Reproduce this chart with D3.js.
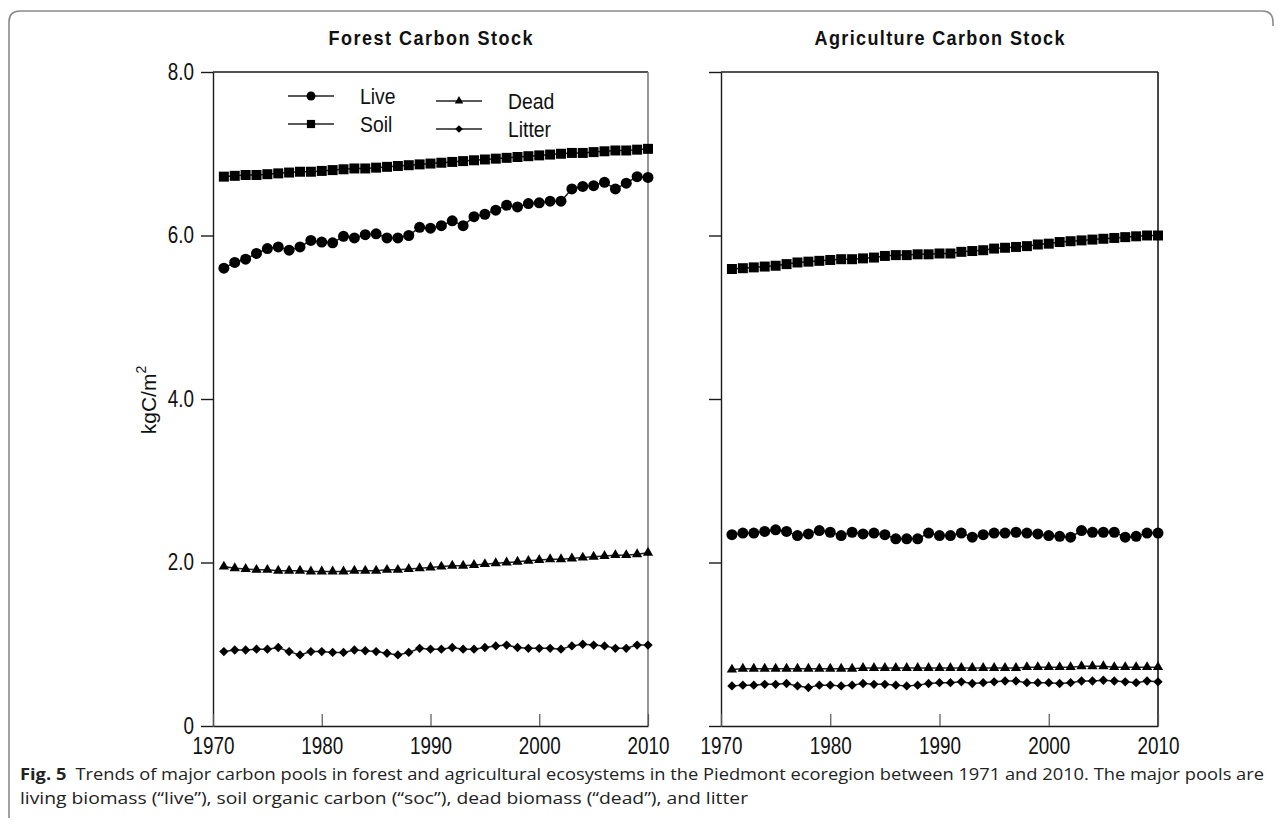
<!DOCTYPE html>
<html><head><meta charset="utf-8">
<script src="https://cdn.jsdelivr.net/npm/d3@7"></script>
<style>body{margin:0;background:#fff;}svg{display:block;}</style>
</head><body>
<svg id="chart" width="1282" height="824"></svg>
<script>
// ---------- data ----------
const years = [1971,1972,1973,1974,1975,1976,1977,1978,1979,1980,
               1981,1982,1983,1984,1985,1986,1987,1988,1989,1990,
               1991,1992,1993,1994,1995,1996,1997,1998,1999,2000,
               2001,2002,2003,2004,2005,2006,2007,2008,2009,2010];
const seriesNames = ["Live","Soil","Dead","Litter"];
const xTicks = [1970,1980,1990,2000,2010];
const yTicks = [0,2,4,6,8];
const yTickLabels = ["0","2.0","4.0","6.0","8.0"];
const panelTitles = ["Forest Carbon Stock","Agriculture Carbon Stock"];

const forestLive = [5.60,5.67,5.71,5.78,5.84,5.86,5.82,5.86,5.94,5.92,
                    5.91,5.99,5.97,6.01,6.02,5.97,5.97,6.00,6.10,6.09,
                    6.12,6.18,6.12,6.23,6.26,6.31,6.37,6.35,6.39,6.40,
                    6.42,6.42,6.57,6.60,6.61,6.65,6.57,6.64,6.72,6.71];
const forestSoil = [6.72,6.73,6.74,6.74,6.75,6.76,6.77,6.78,6.78,6.79,
                    6.80,6.81,6.82,6.82,6.83,6.84,6.85,6.86,6.87,6.88,
                    6.89,6.90,6.91,6.92,6.93,6.94,6.95,6.96,6.97,6.98,
                    6.99,7.00,7.01,7.01,7.02,7.03,7.04,7.04,7.05,7.06];
const forestDead = [1.95,1.93,1.92,1.91,1.91,1.90,1.90,1.90,1.89,1.89,
                    1.89,1.89,1.90,1.90,1.90,1.91,1.91,1.92,1.93,1.94,
                    1.95,1.96,1.96,1.97,1.98,1.99,2.00,2.01,2.02,2.03,
                    2.04,2.04,2.05,2.06,2.07,2.08,2.09,2.09,2.10,2.12];
const forestLitter = [0.91,0.93,0.93,0.94,0.94,0.96,0.91,0.87,0.91,0.91,
                      0.90,0.90,0.93,0.92,0.91,0.89,0.87,0.90,0.95,0.94,
                      0.94,0.96,0.94,0.94,0.96,0.98,0.99,0.96,0.95,0.95,
                      0.95,0.94,0.98,1.00,0.99,0.98,0.95,0.95,0.99,0.99];

const agriLive = [2.34,2.36,2.36,2.38,2.40,2.38,2.33,2.35,2.39,2.37,
                  2.33,2.37,2.35,2.36,2.34,2.29,2.29,2.29,2.36,2.33,
                  2.33,2.36,2.31,2.34,2.36,2.36,2.37,2.36,2.35,2.33,
                  2.32,2.31,2.39,2.37,2.37,2.37,2.31,2.32,2.36,2.36];
const agriSoil = [5.59,5.60,5.61,5.62,5.63,5.65,5.67,5.68,5.69,5.70,
                  5.71,5.71,5.72,5.73,5.75,5.76,5.76,5.77,5.77,5.78,
                  5.78,5.80,5.81,5.82,5.84,5.85,5.86,5.87,5.89,5.90,
                  5.92,5.93,5.94,5.95,5.96,5.97,5.98,5.99,6.00,6.00];
const agriDead = [0.69,0.70,0.70,0.70,0.70,0.70,0.70,0.70,0.70,0.70,
                  0.70,0.70,0.71,0.71,0.71,0.71,0.71,0.71,0.71,0.71,
                  0.71,0.71,0.71,0.71,0.71,0.71,0.71,0.72,0.72,0.72,
                  0.72,0.72,0.73,0.73,0.73,0.72,0.72,0.72,0.72,0.72];
const agriLitter = [0.49,0.50,0.50,0.51,0.51,0.52,0.49,0.47,0.50,0.50,
                    0.49,0.50,0.52,0.51,0.51,0.50,0.49,0.50,0.52,0.53,
                    0.53,0.54,0.52,0.53,0.54,0.55,0.55,0.53,0.53,0.53,
                    0.52,0.53,0.55,0.55,0.56,0.55,0.54,0.53,0.55,0.54];

const captionBold = "Fig. 5";
const captionLine1 = "Trends of major carbon pools in forest and agricultural ecosystems in the Piedmont ecoregion between 1971 and 2010. The major pools are";
const captionLine2 = "living biomass (\u201clive\u201d), soil organic carbon (\u201csoc\u201d), dead biomass (\u201cdead\u201d), and litter";

// ---------- drawing ----------
const SANS = "'Liberation Sans',Arial,sans-serif";
const CAPFONT = "'Open Sans','Noto Sans',sans-serif";
const NX = 0.82; // horizontal squeeze to imitate a narrow face
const svg = d3.select("#chart");
const INK = "#1a1a1a";

// figure frame
svg.append("path")
  .attr("d","M9,818 V22 Q9,11 20,11 H1262 Q1273,11 1273,22 V26")
  .attr("fill","none").attr("stroke","#8a8a8a").attr("stroke-width",1.6);

const y = d3.scaleLinear().domain([0,8]).range([726,72]);
const panels = [
  {x: d3.scaleLinear().domain([1970,2010]).range([213,648]), data:[forestLive,forestSoil,forestDead,forestLitter], labels:true, title:panelTitles[0], titleLen:204, rightCol:"#7a7a7a"},
  {x: d3.scaleLinear().domain([1970,2010]).range([721,1158]), data:[agriLive,agriSoil,agriDead,agriLitter], labels:false, title:panelTitles[1], titleLen:250, rightCol:INK}
];

function markerPath(kind, big) {
  const s = big ? 1 : 0.82;
  if (kind === 0) return d3.symbol(d3.symbolCircle, Math.PI*5.5*5.5*s*s)();
  if (kind === 1) return d3.symbol(d3.symbolSquare, 10*10*s*s)();
  if (kind === 2) return d3.symbol(d3.symbolTriangle, 46*s*s)();
  return d3.symbol(d3.symbolSquare, 6.6*6.6*s*s)();
}
function markerTransform(kind, px, py) {
  return kind === 3 ? `translate(${px},${py}) rotate(45)` : `translate(${px},${py})`;
}

panels.forEach((p) => {
  const g = svg.append("g");
  const [x0,x1] = p.x.range();
  g.append("line").attr("x1",x0).attr("x2",x1).attr("y1",y(8)).attr("y2",y(8)).attr("stroke",INK).attr("stroke-width",1.4);
  g.append("line").attr("x1",x1).attr("x2",x1).attr("y1",y(8)).attr("y2",y(0)).attr("stroke",p.rightCol).attr("stroke-width",1.6);

  // y axis
  const ya = d3.axisLeft(y).tickValues(yTicks).tickSizeInner(12).tickSizeOuter(0).tickPadding(6)
      .tickFormat((d,i) => p.labels ? yTickLabels[i] : "");
  const yg = g.append("g").attr("transform",`translate(${x0},0)`).call(ya);
  yg.selectAll("path,line").attr("stroke",INK).attr("stroke-width",1.4);
  yg.selectAll("text").attr("font-family",SANS).attr("font-size",23).attr("fill","#111")
    .attr("x", -19/NX).attr("transform",`scale(${NX},1)`);

  // x axis (ticks point inward)
  const xa = d3.axisBottom(p.x).tickValues(xTicks).tickSizeInner(-12).tickSizeOuter(0).tickPadding(12)
      .tickFormat(d3.format("d"));
  const xg = g.append("g").attr("transform",`translate(0,${y(0)})`).call(xa);
  xg.selectAll("path").attr("stroke",INK).attr("stroke-width",1.4);
  xg.selectAll("line").attr("stroke","#555").attr("stroke-width",1.2);
  xg.selectAll("text").attr("font-family",SANS).attr("font-size",23).attr("fill","#111")
    .attr("transform",`scale(${NX},1)`);

  // title
  svg.append("text").attr("transform",`translate(${(x0+x1)/2},45) scale(0.86,1)`)
    .attr("text-anchor","middle")
    .attr("font-family",SANS).attr("font-weight","bold").attr("font-size",21).attr("fill","#111")
    .attr("textLength",p.titleLen/0.86).attr("lengthAdjust","spacing")
    .text(p.title);

  // series
  const line = d3.line().x((d,i) => p.x(years[i])).y(d => y(d));
  p.data.forEach((vals, k) => {
    g.append("path").datum(vals).attr("d",line).attr("fill","none")
      .attr("stroke","#222").attr("stroke-width",1.5);
    g.append("g").selectAll("path").data(vals).join("path")
      .attr("d", markerPath(k,true))
      .attr("transform",(d,i) => markerTransform(k, p.x(years[i]), y(d)))
      .attr("fill","#000");
  });
});

// legend (in forest panel)
const legendItems = [
  {k:0, lx:288, ly:96},
  {k:1, lx:288, ly:124},
  {k:2, lx:436, ly:101},
  {k:3, lx:436, ly:129}
];
const lg = svg.append("g");
legendItems.forEach(it => {
  lg.append("line").attr("x1",it.lx).attr("x2",it.lx+46).attr("y1",it.ly).attr("y2",it.ly)
    .attr("stroke","#222").attr("stroke-width",1.5);
  lg.append("path").attr("d",markerPath(it.k,false))
    .attr("transform",markerTransform(it.k,it.lx+23,it.ly)).attr("fill","#000");
  lg.append("text").attr("transform",`translate(${it.lx+72},${it.ly}) scale(0.88,1)`).attr("dy","0.36em")
    .attr("font-family",SANS).attr("font-size",22).attr("fill","#111")
    .text(seriesNames[it.k]);
});

// y label
const yl = svg.append("text").attr("transform","translate(156,400) rotate(-90)")
  .attr("text-anchor","middle").attr("font-family",SANS).attr("font-size",21).attr("fill","#111");
yl.append("tspan").text("kgC/m");
yl.append("tspan").attr("font-size",14).attr("dy","-0.75em").text("2");

// caption
const c1 = svg.append("text").attr("x",20).attr("y",780)
  .attr("font-family",CAPFONT).attr("font-size",16).attr("fill","#222")
  .attr("textLength",1244).attr("lengthAdjust","spacingAndGlyphs");
c1.append("tspan").attr("font-weight","bold").text(captionBold + "\u2002");
c1.append("tspan").text(captionLine1);
svg.append("text").attr("x",20).attr("y",804)
  .attr("font-family",CAPFONT).attr("font-size",16).attr("fill","#222")
  .attr("textLength",728).attr("lengthAdjust","spacingAndGlyphs")
  .text(captionLine2);
</script>
</body></html>
